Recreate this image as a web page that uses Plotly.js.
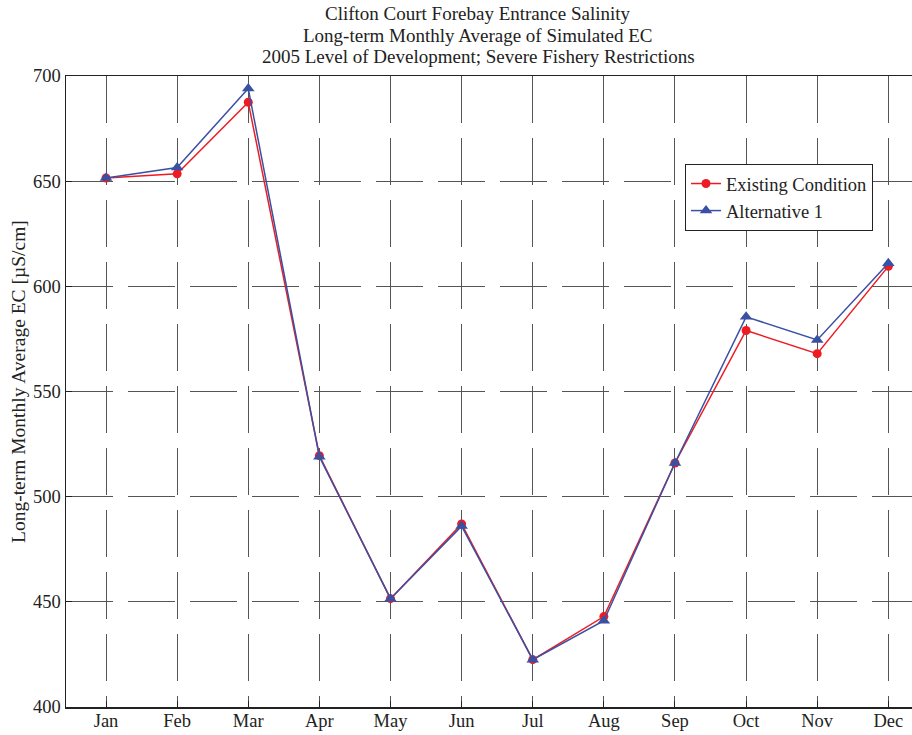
<!DOCTYPE html>
<html>
<head>
<meta charset="utf-8">
<script src="https://cdn.plot.ly/plotly-3.0.1.min.js"></script>
<style>html,body{margin:0;padding:0;background:#fff;overflow:hidden}</style>
</head>
<body>
<div id="chart" style="width:912px;height:735px"></div>
<script>
const months = ["Jan","Feb","Mar","Apr","May","Jun","Jul","Aug","Sep","Oct","Nov","Dec"];
const existingCondition = [651.5, 653.5, 687.5, 519.5, 451.5, 487, 422.5, 443, 516, 579, 568, 609.5];
const alternative1 = [651.5, 656.5, 694, 519, 451.5, 486, 422.5, 441, 516, 585.5, 574.5, 611];
const yTicks = [400, 450, 500, 550, 600, 650, 700];
const titleLines = [
  "Clifton Court Forebay Entrance Salinity",
  "Long-term Monthly Average of Simulated EC",
  "2005 Level of Development; Severe Fishery Restrictions"
];
const yAxisTitle = "Long-term Monthly Average EC [µS/cm]";

const serif = "Liberation Serif, Times New Roman, serif";
const ink = "#222";

const traces = [
  {
    x: months, y: existingCondition, name: "Existing Condition",
    type: "scatter", mode: "lines+markers",
    line: {color: "#ed1c24", width: 1.5},
    marker: {symbol: "circle", size: 9, color: "#ed1c24"}
  },
  {
    x: months, y: alternative1, name: "Alternative 1",
    type: "scatter", mode: "lines+markers",
    line: {color: "#3a50a2", width: 1.5},
    marker: {symbol: "triangle-up", size: 11, color: "#3a50a2"}
  }
];

// plot area: top 76px, bottom 707px (height 631px)
const titleCentersPx = [14, 35, 56];
const annotations = titleLines.map((t, i) => ({
  text: t, showarrow: false,
  xref: "paper", x: 0.487, xanchor: "center",
  yref: "paper", y: (707 - titleCentersPx[i]) / 631, yanchor: "middle",
  font: {family: serif, size: 19, color: ink}
}));
annotations.push({
  text: yAxisTitle,
  textangle: -90, showarrow: false,
  xref: "paper", x: (18 - 66) / 846, xanchor: "center",
  yref: "paper", y: (707 - 382) / 631, yanchor: "middle",
  font: {family: serif, size: 19.5, color: ink}
});

const layout = {
  width: 912, height: 735,
  margin: {l: 66, r: 0, t: 76, b: 28},
  paper_bgcolor: "#fff", plot_bgcolor: "#fff",
  font: {family: serif, size: 18.5, color: ink},
  xaxis: {
    type: "category",
    range: [-0.563, 11.333],
    tickvals: months, ticktext: months,
    ticks: "inside", ticklen: 6, tickcolor: ink,
    ticklabelstandoff: -4,
    showline: true, linecolor: ink, linewidth: 1.5, mirror: true,
    showgrid: true, gridcolor: "#555", gridwidth: 1, griddash: "47px,15px",
    zeroline: false,
    tickfont: {family: serif, size: 18.5, color: ink}
  },
  yaxis: {
    range: [400, 700],
    tickvals: yTicks,
    ticks: "inside", ticklen: 6, tickcolor: ink,
    showline: true, linecolor: ink, linewidth: 1.5, mirror: true,
    showgrid: true, gridcolor: "#555", gridwidth: 1, griddash: "47px,15px",
    zeroline: false,
    tickfont: {family: serif, size: 18.5, color: ink}
  },
  legend: {
    x: (873 - 66) / 846, xanchor: "right", y: (707 - 164) / 631, yanchor: "top",
    bgcolor: "#fff", bordercolor: ink, borderwidth: 1,
    font: {family: serif, size: 18.5, color: ink},
    tracegroupgap: 0
  },
  annotations: annotations,
  showlegend: true
};

Plotly.newPlot("chart", traces, layout, {displayModeBar: false, staticPlot: true});
</script>
</body>
</html>
